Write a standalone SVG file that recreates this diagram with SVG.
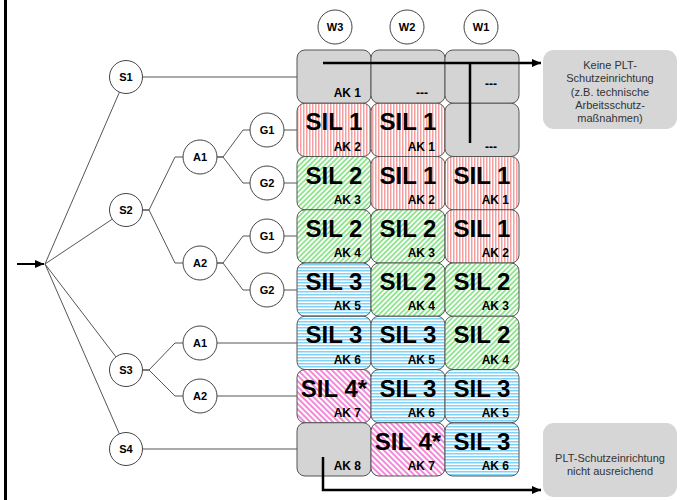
<svg xmlns="http://www.w3.org/2000/svg" width="682" height="500" viewBox="0 0 682 500">
<style>
.c{fill:#fff;stroke:#444;stroke-width:1}
.ct{font-family:"Liberation Sans",Arial,sans-serif;font-weight:bold;font-size:11px;text-anchor:middle;fill:#000}
.cell{stroke:#555;stroke-width:1}
.sil{font-family:"Liberation Sans",Arial,sans-serif;font-weight:bold;font-size:24px;text-anchor:middle;fill:#000}
.ak{font-family:"Liberation Sans",Arial,sans-serif;font-weight:bold;font-size:12px;text-anchor:end;fill:#000}
.ln{fill:none;stroke:#555;stroke-width:1}
.thick{fill:none;stroke:#000;stroke-width:2.5}
.box{fill:#d6d6d6}
.bt{font-family:"Liberation Sans",Arial,sans-serif;font-size:11px;text-anchor:middle;fill:#333}
.gray{fill:#d4d4d4}
.red{fill:url(#pRed)}
.green{fill:url(#pGreen)}
.blue{fill:url(#pBlue)}
.pink{fill:url(#pPink)}
</style>
<defs>
<pattern id="pRed" width="3" height="3" patternUnits="userSpaceOnUse"><rect width="3" height="3" fill="#fff"/><rect width="1.5" height="3" fill="#f4a0a0"/></pattern>
<pattern id="pGreen" width="3.6" height="3.6" patternUnits="userSpaceOnUse" patternTransform="rotate(45)"><rect width="3.6" height="3.6" fill="#fff"/><rect width="1.8" height="3.6" fill="#8ee58e"/></pattern>
<pattern id="pBlue" width="3" height="3" patternUnits="userSpaceOnUse"><rect width="3" height="3" fill="#fff"/><rect width="3" height="1.5" fill="#80d2f6"/></pattern>
<pattern id="pPink" width="4" height="4" patternUnits="userSpaceOnUse" patternTransform="rotate(-45)"><rect width="4" height="4" fill="#fff"/><rect width="2" height="4" fill="#f28ad8"/></pattern>
<marker id="ah" markerWidth="9" markerHeight="8" refX="9" refY="4" orient="auto" markerUnits="userSpaceOnUse"><path d="M0,0 L9,4 L0,8 Z" fill="#000"/></marker>
</defs>
<rect width="682" height="500" fill="#fff"/>
<rect x="4" y="0" width="3" height="500" fill="#000"/>

<g id="connectors">
<line x1="17" y1="264" x2="44" y2="264" stroke="#000" stroke-width="2" marker-end="url(#ah)"/>
<line class="ln" x1="45" y1="264" x2="126" y2="77"/>
<line class="ln" x1="45" y1="264" x2="126" y2="210"/>
<line class="ln" x1="45" y1="264" x2="126" y2="370"/>
<line class="ln" x1="45" y1="264" x2="126" y2="449"/>
<line class="ln" x1="126" y1="77" x2="297" y2="77"/>
<polyline class="ln" points="140,210 149,210 175,157 200,157"/>
<polyline class="ln" points="140,210 149,210 175,263 200,263"/>
<polyline class="ln" points="214,157 223,157 243,130 267,130"/>
<polyline class="ln" points="214,157 223,157 243,183 267,183"/>
<polyline class="ln" points="214,263 223,263 243,236 267,236"/>
<polyline class="ln" points="214,263 223,263 243,290 267,290"/>
<line class="ln" x1="267" y1="130" x2="297" y2="130"/>
<line class="ln" x1="267" y1="183" x2="297" y2="183"/>
<line class="ln" x1="267" y1="236" x2="297" y2="236"/>
<line class="ln" x1="267" y1="290" x2="297" y2="290"/>
<polyline class="ln" points="140,370 149,370 175,343 200,343"/>
<polyline class="ln" points="140,370 149,370 175,396 200,396"/>
<line class="ln" x1="200" y1="343" x2="297" y2="343"/>
<line class="ln" x1="200" y1="396" x2="297" y2="396"/>
<line class="ln" x1="126" y1="449" x2="297" y2="449"/>
</g>

<g id="nS1"><circle class="c" cx="126" cy="77" r="16.5"/><text class="ct" x="126" y="81">S1</text></g>
<g id="nS2"><circle class="c" cx="126" cy="210" r="16.5"/><text class="ct" x="126" y="214">S2</text></g>
<g id="nS3"><circle class="c" cx="126" cy="370" r="16.5"/><text class="ct" x="126" y="374">S3</text></g>
<g id="nS4"><circle class="c" cx="126" cy="449" r="16.5"/><text class="ct" x="126" y="453">S4</text></g>
<g id="nA1a"><circle class="c" cx="200" cy="157" r="17"/><text class="ct" x="200" y="161">A1</text></g>
<g id="nA2a"><circle class="c" cx="200" cy="263" r="17"/><text class="ct" x="200" y="267">A2</text></g>
<g id="nA1b"><circle class="c" cx="200" cy="343" r="17"/><text class="ct" x="200" y="347">A1</text></g>
<g id="nA2b"><circle class="c" cx="200" cy="396" r="17"/><text class="ct" x="200" y="400">A2</text></g>
<g id="nG1a"><circle class="c" cx="267" cy="130" r="17"/><text class="ct" x="267" y="134">G1</text></g>
<g id="nG2a"><circle class="c" cx="267" cy="183" r="17"/><text class="ct" x="267" y="187">G2</text></g>
<g id="nG1b"><circle class="c" cx="267" cy="236" r="17"/><text class="ct" x="267" y="240">G1</text></g>
<g id="nG2b"><circle class="c" cx="267" cy="290" r="17"/><text class="ct" x="267" y="294">G2</text></g>
<g id="nW3"><circle class="c" cx="335" cy="27" r="17"/><text class="ct" x="335" y="31">W3</text></g>
<g id="nW2"><circle class="c" cx="407" cy="27" r="17"/><text class="ct" x="407" y="31">W2</text></g>
<g id="nW1"><circle class="c" cx="481" cy="27" r="17"/><text class="ct" x="481" y="31">W1</text></g>

<g id="r1">
<g id="c11"><rect class="cell gray" x="297" y="50" width="74" height="53.25" rx="8"/><text class="ak" x="361" y="97">AK 1</text></g>
<g id="c12"><rect class="cell gray" x="371" y="50" width="74" height="53.25" rx="8"/><text class="ak" x="428" y="97">---</text></g>
<g id="c13"><rect class="cell gray" x="445" y="50" width="74" height="53.25" rx="8"/><text class="ak" x="497" y="88">---</text></g>
</g>
<g id="r2">
<g id="c21"><rect class="cell red" x="297" y="103.25" width="74" height="53.25" rx="8"/><text class="sil" x="334" y="130">SIL 1</text><text class="ak" x="361" y="150.5">AK 2</text></g>
<g id="c22"><rect class="cell red" x="371" y="103.25" width="74" height="53.25" rx="8"/><text class="sil" x="408" y="130">SIL 1</text><text class="ak" x="435" y="150.5">AK 1</text></g>
<g id="c23"><rect class="cell gray" x="445" y="103.25" width="74" height="53.25" rx="8"/><text class="ak" x="497" y="150.5">---</text></g>
</g>
<g id="r3">
<g id="c31"><rect class="cell green" x="297" y="156.5" width="74" height="53.25" rx="8"/><text class="sil" x="334" y="183.5">SIL 2</text><text class="ak" x="361" y="203.75">AK 3</text></g>
<g id="c32"><rect class="cell red" x="371" y="156.5" width="74" height="53.25" rx="8"/><text class="sil" x="408" y="183.5">SIL 1</text><text class="ak" x="435" y="203.75">AK 2</text></g>
<g id="c33"><rect class="cell red" x="445" y="156.5" width="74" height="53.25" rx="8"/><text class="sil" x="482" y="183.5">SIL 1</text><text class="ak" x="509" y="203.75">AK 1</text></g>
</g>
<g id="r4">
<g id="c41"><rect class="cell green" x="297" y="209.75" width="74" height="53.25" rx="8"/><text class="sil" x="334" y="236.75">SIL 2</text><text class="ak" x="361" y="257">AK 4</text></g>
<g id="c42"><rect class="cell green" x="371" y="209.75" width="74" height="53.25" rx="8"/><text class="sil" x="408" y="236.75">SIL 2</text><text class="ak" x="435" y="257">AK 3</text></g>
<g id="c43"><rect class="cell red" x="445" y="209.75" width="74" height="53.25" rx="8"/><text class="sil" x="482" y="236.75">SIL 1</text><text class="ak" x="509" y="257">AK 2</text></g>
</g>
<g id="r5">
<g id="c51"><rect class="cell blue" x="297" y="263" width="74" height="53.25" rx="8"/><text class="sil" x="334" y="290">SIL 3</text><text class="ak" x="361" y="310.25">AK 5</text></g>
<g id="c52"><rect class="cell green" x="371" y="263" width="74" height="53.25" rx="8"/><text class="sil" x="408" y="290">SIL 2</text><text class="ak" x="435" y="310.25">AK 4</text></g>
<g id="c53"><rect class="cell green" x="445" y="263" width="74" height="53.25" rx="8"/><text class="sil" x="482" y="290">SIL 2</text><text class="ak" x="509" y="310.25">AK 3</text></g>
</g>
<g id="r6">
<g id="c61"><rect class="cell blue" x="297" y="316.25" width="74" height="53.25" rx="8"/><text class="sil" x="334" y="343.25">SIL 3</text><text class="ak" x="361" y="363.5">AK 6</text></g>
<g id="c62"><rect class="cell blue" x="371" y="316.25" width="74" height="53.25" rx="8"/><text class="sil" x="408" y="343.25">SIL 3</text><text class="ak" x="435" y="363.5">AK 5</text></g>
<g id="c63"><rect class="cell green" x="445" y="316.25" width="74" height="53.25" rx="8"/><text class="sil" x="482" y="343.25">SIL 2</text><text class="ak" x="509" y="363.5">AK 4</text></g>
</g>
<g id="r7">
<g id="c71"><rect class="cell pink" x="297" y="369.5" width="74" height="53.25" rx="8"/><text class="sil" x="334" y="396.5">SIL 4*</text><text class="ak" x="361" y="416.75">AK 7</text></g>
<g id="c72"><rect class="cell blue" x="371" y="369.5" width="74" height="53.25" rx="8"/><text class="sil" x="408" y="396.5">SIL 3</text><text class="ak" x="435" y="416.75">AK 6</text></g>
<g id="c73"><rect class="cell blue" x="445" y="369.5" width="74" height="53.25" rx="8"/><text class="sil" x="482" y="396.5">SIL 3</text><text class="ak" x="509" y="416.75">AK 5</text></g>
</g>
<g id="r8">
<g id="c81"><rect class="cell gray" x="297" y="422.75" width="74" height="53.25" rx="8"/><text class="ak" x="361" y="470">AK 8</text></g>
<g id="c82"><rect class="cell pink" x="371" y="422.75" width="74" height="53.25" rx="8"/><text class="sil" x="408" y="449.75">SIL 4*</text><text class="ak" x="435" y="470">AK 7</text></g>
<g id="c83"><rect class="cell blue" x="445" y="422.75" width="74" height="53.25" rx="8"/><text class="sil" x="482" y="449.75">SIL 3</text><text class="ak" x="509" y="470">AK 6</text></g>
</g>

<g id="boxTop"><rect class="box" x="543" y="50" width="134" height="79" rx="11"/>
<text class="bt" x="610" y="69">Keine PLT-</text>
<text class="bt" x="610" y="82">Schutzeinrichtung</text>
<text class="bt" x="610" y="95.5">(z.B. technische</text>
<text class="bt" x="610" y="109">Arbeitsschutz-</text>
<text class="bt" x="610" y="122">maßnahmen)</text></g>
<g id="boxBottom"><rect class="box" x="543" y="423" width="134" height="74" rx="11"/>
<text class="bt" x="610" y="462">PLT-Schutzeinrichtung</text>
<text class="bt" x="610" y="474.5">nicht ausreichend</text></g>

<g id="flows">
<polyline class="thick" points="323,63 541,63" marker-end="url(#ah)"/>
<line class="thick" x1="470" y1="63" x2="470" y2="143"/>
<polyline class="thick" points="323,457 323,490 541,490" marker-end="url(#ah)"/>
</g>
</svg>
